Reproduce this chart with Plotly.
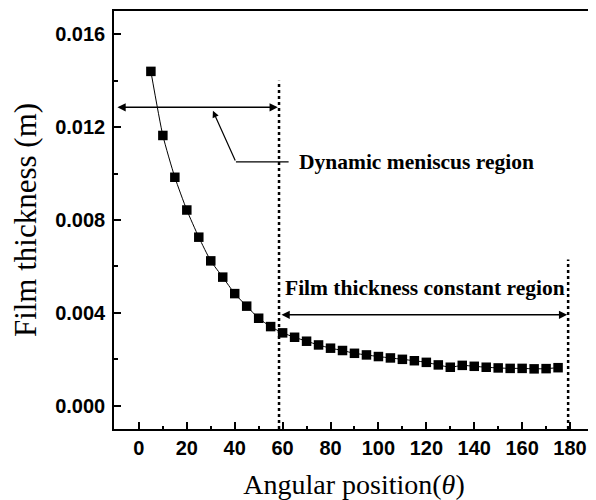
import plotly.graph_objects as go

# Data
angle = [5, 10, 15, 20, 25, 30, 35, 40, 45, 50, 55, 60, 65, 70, 75, 80, 85,
         90, 95, 100, 105, 110, 115, 120, 125, 130, 135, 140, 145, 150, 155,
         160, 165, 170, 175]
thickness = [0.01440, 0.01164, 0.00984, 0.00843, 0.00726, 0.00624, 0.00554,
             0.00483, 0.00429, 0.00377, 0.00341, 0.00314, 0.00295, 0.00278,
             0.00262, 0.00248, 0.00238, 0.00226, 0.00219, 0.00212, 0.00206,
             0.00200, 0.00194, 0.00187, 0.00176, 0.00166, 0.00174, 0.00170,
             0.00166, 0.00163, 0.00161, 0.00161, 0.00159, 0.00160, 0.00164]

x_ticks = [0, 20, 40, 60, 80, 100, 120, 140, 160, 180]
y_ticks = [0.000, 0.004, 0.008, 0.012, 0.016]
y_tick_labels = ["0.000", "0.004", "0.008", "0.012", "0.016"]

# Region boundaries / annotation anchors
boundary1_x, boundary1_top = 58.5, 0.0140
boundary2_x, boundary2_top = 179.2, 0.0063
arrow1_y, arrow1_x0, arrow1_x1 = 0.01285, -9.6, 58.0
arrow2_y, arrow2_x0, arrow2_x1 = 0.00392, 58.9, 178.8
leader_tip = (30.9, 0.0127)
leader_corner = (40.5, 0.0105)
leader_end_x = 62.5
label1 = "Dynamic meniscus region"
label1_pos = (66.0, 0.0105)
label2 = "Film thickness constant region"
label2_pos = (60.0, 0.00506)

tick_font = dict(family="Liberation Sans, Arial", size=20, color="black", weight="bold")
xtitle_font = dict(family="Liberation Serif, Times New Roman", size=28, color="black")
ytitle_font = dict(family="Liberation Serif, Times New Roman", size=31, color="black")
ann_font = dict(family="Liberation Serif, Times New Roman", size=21.5, color="black")

fig = go.Figure()
fig.add_trace(go.Scatter(
    x=angle, y=thickness, mode="lines+markers",
    line=dict(color="black", width=1, shape="spline", smoothing=0.6),
    marker=dict(symbol="square", size=9.5, color="black"),
    showlegend=False, hoverinfo="skip",
))

# dotted boundaries
for bx, bt in [(boundary1_x, boundary1_top), (boundary2_x, boundary2_top)]:
    fig.add_shape(type="line", xref="x", yref="y", x0=bx, x1=bx, y0=-0.001, y1=bt,
                  line=dict(color="black", width=2.5, dash="dot"))

# double arrows
for yy, xa, xb in [(arrow1_y, arrow1_x0, arrow1_x1), (arrow2_y, arrow2_x0, arrow2_x1)]:
    fig.add_annotation(x=xb, y=yy, ax=xa, ay=yy, xref="x", yref="y", axref="x", ayref="y",
                       text="", showarrow=True, arrowhead=2, arrowside="end+start",
                       arrowsize=1.1, arrowwidth=1.5, arrowcolor="black", standoff=0, startstandoff=0)

# leader line
fig.add_shape(type="line", xref="x", yref="y", x0=leader_corner[0], x1=leader_end_x,
              y0=leader_corner[1], y1=leader_corner[1], line=dict(color="black", width=1.2))
fig.add_annotation(x=leader_tip[0], y=leader_tip[1], ax=leader_corner[0], ay=leader_corner[1],
                   xref="x", yref="y", axref="x", ayref="y", text="", showarrow=True,
                   arrowhead=2, arrowsize=1.1, arrowwidth=1.2, arrowcolor="black")

fig.add_annotation(x=label1_pos[0], y=label1_pos[1], xref="x", yref="y",
                   text="<b>" + label1 + "</b>", showarrow=False, xanchor="left",
                   yanchor="middle", font=ann_font)
fig.add_annotation(x=label2_pos[0], y=label2_pos[1], xref="x", yref="y",
                   text="<b>" + label2 + "</b>", showarrow=False, xanchor="left",
                   yanchor="middle", font=ann_font)

# The page body adds an 8px offset, so the figure is sized 8px smaller.
fig.update_layout(
    width=588, height=492,
    margin=dict(l=106, r=2, t=3, b=71, autoexpand=False),
    paper_bgcolor="white", plot_bgcolor="white",
    xaxis=dict(
        range=[-10.4, 190], tickvals=x_ticks, ticktext=[str(v) for v in x_ticks],
        ticks="inside", ticklen=7, tickwidth=1.5, tickcolor="black",
        showline=True, linecolor="black", linewidth=1.5, mirror=True,
        showgrid=False, zeroline=False, automargin=False,
        tickfont=tick_font, ticklabelstandoff=0,
        minor=dict(tickvals=[v + 10 for v in x_ticks[:-1]] + [-10], ticks="inside",
                   ticklen=3, tickwidth=1.5, tickcolor="black", showgrid=False),
        title=dict(text="Angular position(<i>θ</i>)", font=xtitle_font, standoff=19),
    ),
    yaxis=dict(
        range=[-0.001, 0.017], tickvals=y_ticks, ticktext=y_tick_labels,
        ticks="inside", ticklen=7, tickwidth=1.5, tickcolor="black",
        showline=True, linecolor="black", linewidth=1.5, mirror=True,
        showgrid=False, zeroline=False, automargin=False,
        tickfont=tick_font, ticklabelstandoff=3,
        minor=dict(tickvals=[0.002, 0.006, 0.010, 0.014], ticks="inside",
                   ticklen=4, tickwidth=1.5, tickcolor="black", showgrid=False),
        title=dict(text="Film thickness (m)", font=ytitle_font, standoff=11),
    ),
)

fig.write_html("out.html")
